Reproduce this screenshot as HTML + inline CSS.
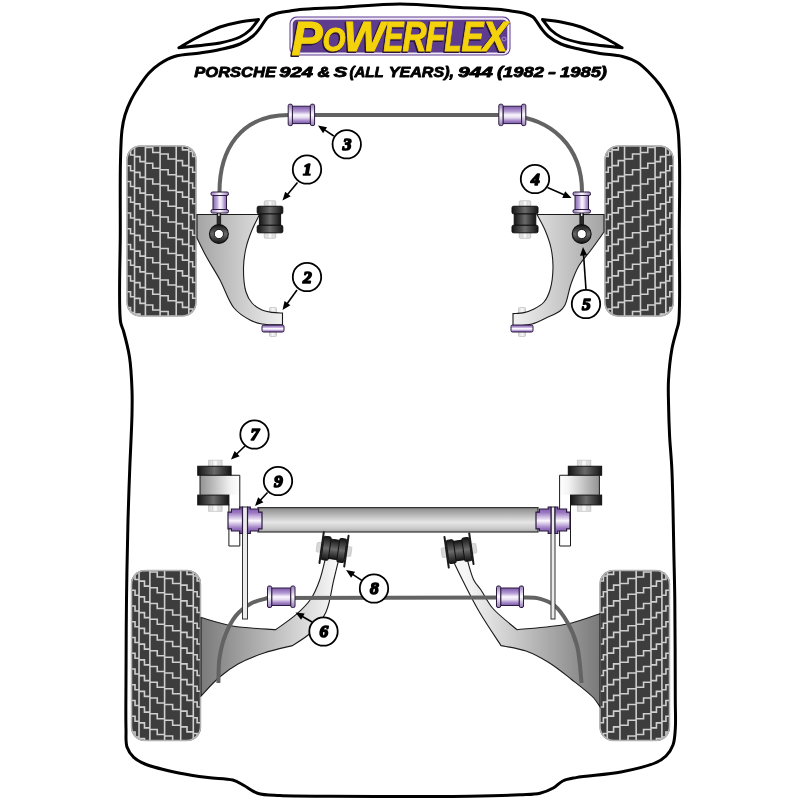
<!DOCTYPE html>
<html><head><meta charset="utf-8"><style>
html,body{margin:0;padding:0;background:#fff;width:800px;height:800px;overflow:hidden}
svg{display:block;will-change:transform}
</style></head><body>
<svg width="800" height="800" viewBox="0 0 800 800">
<defs>
<linearGradient id="gPurple" x1="0" y1="0" x2="0" y2="1">
  <stop offset="0" stop-color="#7c58aa"/>
  <stop offset="0.3" stop-color="#b59cd4"/>
  <stop offset="0.5" stop-color="#faf6fd"/>
  <stop offset="0.65" stop-color="#e8def2"/>
  <stop offset="0.85" stop-color="#a284c6"/>
  <stop offset="1" stop-color="#7c58aa"/>
</linearGradient>
<linearGradient id="gFlange" x1="0" y1="0" x2="0" y2="1">
  <stop offset="0" stop-color="#9478ba"/>
  <stop offset="0.5" stop-color="#ffffff"/>
  <stop offset="1" stop-color="#9478ba"/>
</linearGradient>
<linearGradient id="gFlangeV" x1="0" y1="0" x2="1" y2="0">
  <stop offset="0" stop-color="#9478ba"/>
  <stop offset="0.5" stop-color="#ffffff"/>
  <stop offset="1" stop-color="#9478ba"/>
</linearGradient>
<linearGradient id="gPurple9" x1="0" y1="0" x2="0" y2="1">
  <stop offset="0" stop-color="#7450a4"/>
  <stop offset="0.22" stop-color="#9c7ac2"/>
  <stop offset="0.52" stop-color="#faf6fd"/>
  <stop offset="0.8" stop-color="#9a78c0"/>
  <stop offset="1" stop-color="#7450a4"/>
</linearGradient>
<linearGradient id="gPurpleV" x1="0" y1="0" x2="1" y2="0">
  <stop offset="0" stop-color="#8a6cb2"/>
  <stop offset="0.3" stop-color="#bca6d8"/>
  <stop offset="0.5" stop-color="#faf6fd"/>
  <stop offset="0.65" stop-color="#e8def2"/>
  <stop offset="0.85" stop-color="#ad92cc"/>
  <stop offset="1" stop-color="#8a6cb2"/>
</linearGradient>
<linearGradient id="gBlack" x1="0" y1="0" x2="1" y2="0">
  <stop offset="0" stop-color="#141414"/>
  <stop offset="0.5" stop-color="#6a6a6a"/>
  <stop offset="1" stop-color="#141414"/>
</linearGradient>
<linearGradient id="gBlackH" x1="0" y1="0" x2="0" y2="1">
  <stop offset="0" stop-color="#141414"/>
  <stop offset="0.5" stop-color="#6a6a6a"/>
  <stop offset="1" stop-color="#141414"/>
</linearGradient>
<linearGradient id="gBolt" x1="0" y1="0" x2="1" y2="0">
  <stop offset="0" stop-color="#d4d4d4"/>
  <stop offset="0.5" stop-color="#fafafa"/>
  <stop offset="1" stop-color="#d4d4d4"/>
</linearGradient>
<linearGradient id="gBody7" x1="0" y1="0" x2="1" y2="0">
  <stop offset="0" stop-color="#9a9a9a"/>
  <stop offset="0.5" stop-color="#e6e6e6"/>
  <stop offset="1" stop-color="#a0a0a0"/>
</linearGradient>
<linearGradient id="gBody7L" x1="0" y1="0" x2="1" y2="0">
  <stop offset="0" stop-color="#929292"/>
  <stop offset="0.78" stop-color="#f4f4f4"/>
  <stop offset="1" stop-color="#ffffff"/>
</linearGradient>
<linearGradient id="gBody7R" x1="1" y1="0" x2="0" y2="0">
  <stop offset="0" stop-color="#929292"/>
  <stop offset="0.78" stop-color="#f4f4f4"/>
  <stop offset="1" stop-color="#ffffff"/>
</linearGradient>
<linearGradient id="gTube" x1="0" y1="0" x2="0" y2="1">
  <stop offset="0" stop-color="#8a8a8a"/>
  <stop offset="0.6" stop-color="#e6e6e6"/>
  <stop offset="0.85" stop-color="#cacaca"/>
  <stop offset="1" stop-color="#a8a8a8"/>
</linearGradient>
<linearGradient id="gArmFL" gradientUnits="userSpaceOnUse" x1="197" y1="0" x2="285" y2="0">
  <stop offset="0" stop-color="#a4a4a4"/>
  <stop offset="1" stop-color="#f2f2f2"/>
</linearGradient>
<linearGradient id="gArmFR" gradientUnits="userSpaceOnUse" x1="604" y1="0" x2="512" y2="0">
  <stop offset="0" stop-color="#a4a4a4"/>
  <stop offset="1" stop-color="#f2f2f2"/>
</linearGradient>
<linearGradient id="gArmRL" gradientUnits="userSpaceOnUse" x1="201" y1="0" x2="335" y2="0">
  <stop offset="0" stop-color="#7a7a7a"/>
  <stop offset="1" stop-color="#f6f6f6"/>
</linearGradient>
<linearGradient id="gArmRR" gradientUnits="userSpaceOnUse" x1="600" y1="0" x2="466" y2="0">
  <stop offset="0" stop-color="#7a7a7a"/>
  <stop offset="1" stop-color="#f6f6f6"/>
</linearGradient>

<clipPath id="clipt1"><rect x="126.5" y="145.5" width="70" height="171" rx="14"/></clipPath>
<clipPath id="clipt2"><rect x="604.4" y="145.5" width="69.4" height="171" rx="14"/></clipPath>
<clipPath id="clipt3"><rect x="131" y="570" width="70" height="171" rx="14"/></clipPath>
<clipPath id="clipt4"><rect x="599.5" y="570" width="70.5" height="171" rx="14"/></clipPath></defs>
<rect width="800" height="800" fill="#fff"/>
<path d="M400,4 C380,4 357.98,6.53 340,7.5 C325.32,8.3 308.87,8.61 300,9.5 C295.54,9.94 293.61,10.41 290,11 C285.72,11.7 279.96,12.3 276,13.5 C272.9,14.44 270.07,15.41 268,17 C266.23,18.36 265.3,20.23 264,22 C262.62,23.88 261.6,25.91 260,28 C258.06,30.54 255.92,33.53 253,36 C249.5,38.95 244.97,41.84 240,44 C234.2,46.52 226.7,48 220,49.5 C213.37,50.99 207.08,51.89 200,53 C192.03,54.24 181.72,54.27 174.5,56.5 C168.67,58.3 163.9,61.08 159.5,64 C155.5,66.65 152.2,69.59 149,73 C145.67,76.55 142.89,80.7 140,85 C136.88,89.65 133.53,94.9 131,100 C128.57,104.9 126.51,109.93 125,115 C123.53,119.93 122.73,124.11 122,130 C120.97,138.25 120.82,147.91 120.5,160 C120.01,178.46 120.29,205.07 120.3,230 C120.31,258.57 118.29,307.47 120.6,322 C121.34,326.66 122.45,327.19 123.5,331 C125.26,337.39 128.09,347.76 129.5,357 C131.07,367.29 131.62,379.87 132,390 C132.33,398.63 132.2,404.33 132,414 C131.7,428.77 130.38,451.86 129.7,470 C129.06,487.14 128.49,501.38 128,520 C127.38,543.55 126.83,573.33 126.5,600 C126.17,626.67 126.07,656.59 126,680 C125.94,698.32 125.66,716.68 126,729 C126.21,736.48 125.37,741.99 127,747 C128.36,751.15 130.81,754.59 133.75,757.4 C136.77,760.29 140.06,761.94 145,764 C153.08,767.37 167.84,770.69 178.75,773 C188.79,775.12 198.64,776.41 208,777.6 C216.58,778.69 226.23,778.16 232.75,780 C237.37,781.31 240.11,783.44 244,785.5 C248.33,787.79 252.22,791.5 257.5,793.2 C263.87,795.26 271.01,795.06 280,795.6 C293.37,796.4 311.93,796.15 330,796.3 C351.37,796.48 376.67,796.5 400,796.5 C423.33,796.5 448.63,796.65 470,796.3 C488.07,796 507.09,795.51 520,794.8 C528.17,794.35 534.05,794.58 540,793.2 C545.11,792.01 549.78,789.97 553.75,787.75 C557.21,785.81 559.27,782.67 562.75,781 C566.59,779.16 570.23,778.7 576,777.6 C586.51,775.61 607.13,774.69 621,772 C633.21,769.64 646.97,766.52 655,763 C659.89,760.86 663,759 666,756 C669,753 671.44,749.2 673,745 C674.73,740.33 674.86,735.14 675.3,729 C675.89,720.78 675.33,712.57 675.3,700 C675.24,676.67 675.12,625.83 674.8,600 C674.6,583.66 674.35,576 674,560 C673.48,536 672.94,492.83 671.9,470 C671.26,455.95 670.17,447.3 669.6,436 C669.04,424.8 668.67,412.56 668.5,402.5 C668.36,394.26 668.05,388.12 668.5,380 C669.03,370.37 670.39,357.42 672,348.5 C673.21,341.77 675.17,335.87 676.4,331 C677.29,327.5 678.1,326.63 678.7,322 C680.58,307.44 679.17,258.57 679.3,230 C679.42,205.08 679.93,178.46 679.5,160 C679.22,147.91 679.03,138.25 678,130 C677.27,124.11 676.47,119.93 675,115 C673.49,109.93 671.43,104.9 669,100 C666.47,94.9 663.34,89.59 660,85 C656.81,80.62 653.25,76.75 649.5,73 C645.75,69.25 641.98,65.25 637.5,62.5 C632.99,59.74 628.11,57.97 622.5,56.5 C615.85,54.76 607.16,54.73 600,53.5 C593.38,52.36 587.39,51.05 581,49.5 C574.39,47.9 566.8,46.52 561,44 C556.03,41.84 551.5,38.95 548,36 C545.08,33.53 542.94,30.54 541,28 C539.4,25.91 538.38,23.88 537,22 C535.7,20.23 534.77,18.36 533,17 C530.93,15.41 528.1,14.44 525,13.5 C521.04,12.3 515.28,11.7 511,11 C507.39,10.41 505.48,9.94 501,9.5 C491.98,8.61 474.96,8.3 460,7.5 C441.9,6.53 420,4 400,4Z" fill="#ffffff" stroke="#000" stroke-width="3"/>
<path d="M178.9,47.8 C181.58,46.25 189.56,41.38 195,38.5 C200.37,35.65 206.69,32.67 211.3,30.6 C214.63,29.11 216.45,28.17 220,27 C225.25,25.27 233.43,23.26 240,22 C246.25,20.8 255.42,19.92 258.5,19.5 L258.5,19.5 C257.08,21.25 253.18,27.04 250,30 C246.98,32.82 244.1,35.02 240,37 C234.64,39.6 226.3,41.64 220,43 C214.53,44.18 210.24,44.4 204.4,45.1 C196.94,46 183.15,47.35 178.9,47.8Z" fill="#fff" stroke="#000" stroke-width="3" stroke-linejoin="round"/>
<path d="M622.1,47.8 C619.42,46.25 611.44,41.38 606,38.5 C600.63,35.65 594.31,32.67 589.7,30.6 C586.37,29.11 584.55,28.17 581,27 C575.75,25.27 567.57,23.26 561,22 C554.75,20.8 545.58,19.92 542.5,19.5 L542.5,19.5 C543.92,21.25 547.82,27.04 551,30 C554.02,32.82 556.9,35.02 561,37 C566.36,39.6 574.7,41.64 581,43 C586.47,44.18 590.76,44.4 596.6,45.1 C604.06,46 617.85,47.35 622.1,47.8Z" fill="#fff" stroke="#000" stroke-width="3" stroke-linejoin="round"/>
<g clip-path="url(#clipt1)">
<rect x="126.5" y="145.5" width="70" height="171" fill="#3d3d3d"/>
<path d="M126.5,118.5H130.53V123.5H134.55M126.5,134.25H130.53V139.25H134.55M126.5,150H130.53V155H134.55M126.5,165.75H130.53V170.75H134.55M126.5,181.5H130.53V186.5H134.55M126.5,197.25H130.53V202.25H134.55M126.5,213H130.53V218H134.55M126.5,228.75H130.53V233.75H134.55M126.5,244.5H130.53V249.5H134.55M126.5,260.25H130.53V265.25H134.55M126.5,276H130.53V281H134.55M126.5,291.75H130.53V296.75H134.55M126.5,307.5H130.53V312.5H134.55M134.55,145.5V316.5M134.55,125.1H139.98V130.1H145.4M134.55,140.85H139.98V145.85H145.4M134.55,156.6H139.98V161.6H145.4M134.55,172.35H139.98V177.35H145.4M134.55,188.1H139.98V193.1H145.4M134.55,203.85H139.98V208.85H145.4M134.55,219.6H139.98V224.6H145.4M134.55,235.35H139.98V240.35H145.4M134.55,251.1H139.98V256.1H145.4M134.55,266.85H139.98V271.85H145.4M134.55,282.6H139.98V287.6H145.4M134.55,298.35H139.98V303.35H145.4M134.55,314.1H139.98V319.1H145.4M145.4,145.5V316.5M145.4,131.7H152.75V136.7H160.1M145.4,147.45H152.75V152.45H160.1M145.4,163.2H152.75V168.2H160.1M145.4,178.95H152.75V183.95H160.1M145.4,194.7H152.75V199.7H160.1M145.4,210.45H152.75V215.45H160.1M145.4,226.2H152.75V231.2H160.1M145.4,241.95H152.75V246.95H160.1M145.4,257.7H152.75V262.7H160.1M145.4,273.45H152.75V278.45H160.1M145.4,289.2H152.75V294.2H160.1M145.4,304.95H152.75V309.95H160.1M160.1,145.5V316.5M160.1,138.3H168.15V143.3H176.2M160.1,154.05H168.15V159.05H176.2M160.1,169.8H168.15V174.8H176.2M160.1,185.55H168.15V190.55H176.2M160.1,201.3H168.15V206.3H176.2M160.1,217.05H168.15V222.05H176.2M160.1,232.8H168.15V237.8H176.2M160.1,248.55H168.15V253.55H176.2M160.1,264.3H168.15V269.3H176.2M160.1,280.05H168.15V285.05H176.2M160.1,295.8H168.15V300.8H176.2M160.1,311.55H168.15V316.55H176.2M176.2,145.5V316.5M176.2,144.9H182.5V149.9H188.8M176.2,160.65H182.5V165.65H188.8M176.2,176.4H182.5V181.4H188.8M176.2,192.15H182.5V197.15H188.8M176.2,207.9H182.5V212.9H188.8M176.2,223.65H182.5V228.65H188.8M176.2,239.4H182.5V244.4H188.8M176.2,255.15H182.5V260.15H188.8M176.2,270.9H182.5V275.9H188.8M176.2,286.65H182.5V291.65H188.8M176.2,302.4H182.5V307.4H188.8M176.2,318.15H182.5V323.15H188.8M188.8,145.5V316.5M188.8,151.5H192.65V156.5H196.5M188.8,167.25H192.65V172.25H196.5M188.8,183H192.65V188H196.5M188.8,198.75H192.65V203.75H196.5M188.8,214.5H192.65V219.5H196.5M188.8,230.25H192.65V235.25H196.5M188.8,246H192.65V251H196.5M188.8,261.75H192.65V266.75H196.5M188.8,277.5H192.65V282.5H196.5M188.8,293.25H192.65V298.25H196.5M188.8,309H192.65V314H196.5" fill="none" stroke="#cfcfcf" stroke-width="1.6"/>
</g>
<rect x="127" y="146" width="69" height="170" rx="14" fill="none" stroke="#b4b4b4" stroke-width="1.5"/>
<g clip-path="url(#clipt2)">
<g transform="translate(1278.2,0) scale(-1,1)">
<rect x="604.4" y="145.5" width="69.4" height="171" fill="#3d3d3d"/>
<path d="M604.4,118.5H608.39V123.5H612.38M604.4,134.25H608.39V139.25H612.38M604.4,150H608.39V155H612.38M604.4,165.75H608.39V170.75H612.38M604.4,181.5H608.39V186.5H612.38M604.4,197.25H608.39V202.25H612.38M604.4,213H608.39V218H612.38M604.4,228.75H608.39V233.75H612.38M604.4,244.5H608.39V249.5H612.38M604.4,260.25H608.39V265.25H612.38M604.4,276H608.39V281H612.38M604.4,291.75H608.39V296.75H612.38M604.4,307.5H608.39V312.5H612.38M612.38,145.5V316.5M612.38,125.1H617.76V130.1H623.14M612.38,140.85H617.76V145.85H623.14M612.38,156.6H617.76V161.6H623.14M612.38,172.35H617.76V177.35H623.14M612.38,188.1H617.76V193.1H623.14M612.38,203.85H617.76V208.85H623.14M612.38,219.6H617.76V224.6H623.14M612.38,235.35H617.76V240.35H623.14M612.38,251.1H617.76V256.1H623.14M612.38,266.85H617.76V271.85H623.14M612.38,282.6H617.76V287.6H623.14M612.38,298.35H617.76V303.35H623.14M612.38,314.1H617.76V319.1H623.14M623.14,145.5V316.5M623.14,131.7H630.42V136.7H637.71M623.14,147.45H630.42V152.45H637.71M623.14,163.2H630.42V168.2H637.71M623.14,178.95H630.42V183.95H637.71M623.14,194.7H630.42V199.7H637.71M623.14,210.45H630.42V215.45H637.71M623.14,226.2H630.42V231.2H637.71M623.14,241.95H630.42V246.95H637.71M623.14,257.7H630.42V262.7H637.71M623.14,273.45H630.42V278.45H637.71M623.14,289.2H630.42V294.2H637.71M623.14,304.95H630.42V309.95H637.71M637.71,145.5V316.5M637.71,138.3H645.69V143.3H653.67M637.71,154.05H645.69V159.05H653.67M637.71,169.8H645.69V174.8H653.67M637.71,185.55H645.69V190.55H653.67M637.71,201.3H645.69V206.3H653.67M637.71,217.05H645.69V222.05H653.67M637.71,232.8H645.69V237.8H653.67M637.71,248.55H645.69V253.55H653.67M637.71,264.3H645.69V269.3H653.67M637.71,280.05H645.69V285.05H653.67M637.71,295.8H645.69V300.8H653.67M637.71,311.55H645.69V316.55H653.67M653.67,145.5V316.5M653.67,144.9H659.92V149.9H666.17M653.67,160.65H659.92V165.65H666.17M653.67,176.4H659.92V181.4H666.17M653.67,192.15H659.92V197.15H666.17M653.67,207.9H659.92V212.9H666.17M653.67,223.65H659.92V228.65H666.17M653.67,239.4H659.92V244.4H666.17M653.67,255.15H659.92V260.15H666.17M653.67,270.9H659.92V275.9H666.17M653.67,286.65H659.92V291.65H666.17M653.67,302.4H659.92V307.4H666.17M653.67,318.15H659.92V323.15H666.17M666.17,145.5V316.5M666.17,151.5H669.98V156.5H673.8M666.17,167.25H669.98V172.25H673.8M666.17,183H669.98V188H673.8M666.17,198.75H669.98V203.75H673.8M666.17,214.5H669.98V219.5H673.8M666.17,230.25H669.98V235.25H673.8M666.17,246H669.98V251H673.8M666.17,261.75H669.98V266.75H673.8M666.17,277.5H669.98V282.5H673.8M666.17,293.25H669.98V298.25H673.8M666.17,309H669.98V314H673.8" fill="none" stroke="#cfcfcf" stroke-width="1.6"/>
</g>
</g>
<rect x="604.9" y="146" width="68.4" height="170" rx="14" fill="none" stroke="#b4b4b4" stroke-width="1.5"/>
<g clip-path="url(#clipt3)">
<rect x="131" y="570" width="70" height="171" fill="#3d3d3d"/>
<path d="M131,543H135.03V548H139.05M131,558.75H135.03V563.75H139.05M131,574.5H135.03V579.5H139.05M131,590.25H135.03V595.25H139.05M131,606H135.03V611H139.05M131,621.75H135.03V626.75H139.05M131,637.5H135.03V642.5H139.05M131,653.25H135.03V658.25H139.05M131,669H135.03V674H139.05M131,684.75H135.03V689.75H139.05M131,700.5H135.03V705.5H139.05M131,716.25H135.03V721.25H139.05M131,732H135.03V737H139.05M139.05,570V741M139.05,549.6H144.48V554.6H149.9M139.05,565.35H144.48V570.35H149.9M139.05,581.1H144.48V586.1H149.9M139.05,596.85H144.48V601.85H149.9M139.05,612.6H144.48V617.6H149.9M139.05,628.35H144.48V633.35H149.9M139.05,644.1H144.48V649.1H149.9M139.05,659.85H144.48V664.85H149.9M139.05,675.6H144.48V680.6H149.9M139.05,691.35H144.48V696.35H149.9M139.05,707.1H144.48V712.1H149.9M139.05,722.85H144.48V727.85H149.9M139.05,738.6H144.48V743.6H149.9M149.9,570V741M149.9,556.2H157.25V561.2H164.6M149.9,571.95H157.25V576.95H164.6M149.9,587.7H157.25V592.7H164.6M149.9,603.45H157.25V608.45H164.6M149.9,619.2H157.25V624.2H164.6M149.9,634.95H157.25V639.95H164.6M149.9,650.7H157.25V655.7H164.6M149.9,666.45H157.25V671.45H164.6M149.9,682.2H157.25V687.2H164.6M149.9,697.95H157.25V702.95H164.6M149.9,713.7H157.25V718.7H164.6M149.9,729.45H157.25V734.45H164.6M164.6,570V741M164.6,562.8H172.65V567.8H180.7M164.6,578.55H172.65V583.55H180.7M164.6,594.3H172.65V599.3H180.7M164.6,610.05H172.65V615.05H180.7M164.6,625.8H172.65V630.8H180.7M164.6,641.55H172.65V646.55H180.7M164.6,657.3H172.65V662.3H180.7M164.6,673.05H172.65V678.05H180.7M164.6,688.8H172.65V693.8H180.7M164.6,704.55H172.65V709.55H180.7M164.6,720.3H172.65V725.3H180.7M164.6,736.05H172.65V741.05H180.7M180.7,570V741M180.7,569.4H187V574.4H193.3M180.7,585.15H187V590.15H193.3M180.7,600.9H187V605.9H193.3M180.7,616.65H187V621.65H193.3M180.7,632.4H187V637.4H193.3M180.7,648.15H187V653.15H193.3M180.7,663.9H187V668.9H193.3M180.7,679.65H187V684.65H193.3M180.7,695.4H187V700.4H193.3M180.7,711.15H187V716.15H193.3M180.7,726.9H187V731.9H193.3M180.7,742.65H187V747.65H193.3M193.3,570V741M193.3,576H197.15V581H201M193.3,591.75H197.15V596.75H201M193.3,607.5H197.15V612.5H201M193.3,623.25H197.15V628.25H201M193.3,639H197.15V644H201M193.3,654.75H197.15V659.75H201M193.3,670.5H197.15V675.5H201M193.3,686.25H197.15V691.25H201M193.3,702H197.15V707H201M193.3,717.75H197.15V722.75H201M193.3,733.5H197.15V738.5H201" fill="none" stroke="#cfcfcf" stroke-width="1.6"/>
</g>
<rect x="131.5" y="570.5" width="69" height="170" rx="14" fill="none" stroke="#b4b4b4" stroke-width="1.5"/>
<g clip-path="url(#clipt4)">
<g transform="translate(1269.5,0) scale(-1,1)">
<rect x="599.5" y="570" width="70.5" height="171" fill="#3d3d3d"/>
<path d="M599.5,543H603.55V548H607.61M599.5,558.75H603.55V563.75H607.61M599.5,574.5H603.55V579.5H607.61M599.5,590.25H603.55V595.25H607.61M599.5,606H603.55V611H607.61M599.5,621.75H603.55V626.75H607.61M599.5,637.5H603.55V642.5H607.61M599.5,653.25H603.55V658.25H607.61M599.5,669H603.55V674H607.61M599.5,684.75H603.55V689.75H607.61M599.5,700.5H603.55V705.5H607.61M599.5,716.25H603.55V721.25H607.61M599.5,732H603.55V737H607.61M607.61,570V741M607.61,549.6H613.07V554.6H618.53M607.61,565.35H613.07V570.35H618.53M607.61,581.1H613.07V586.1H618.53M607.61,596.85H613.07V601.85H618.53M607.61,612.6H613.07V617.6H618.53M607.61,628.35H613.07V633.35H618.53M607.61,644.1H613.07V649.1H618.53M607.61,659.85H613.07V664.85H618.53M607.61,675.6H613.07V680.6H618.53M607.61,691.35H613.07V696.35H618.53M607.61,707.1H613.07V712.1H618.53M607.61,722.85H613.07V727.85H618.53M607.61,738.6H613.07V743.6H618.53M618.53,570V741M618.53,556.2H625.94V561.2H633.34M618.53,571.95H625.94V576.95H633.34M618.53,587.7H625.94V592.7H633.34M618.53,603.45H625.94V608.45H633.34M618.53,619.2H625.94V624.2H633.34M618.53,634.95H625.94V639.95H633.34M618.53,650.7H625.94V655.7H633.34M618.53,666.45H625.94V671.45H633.34M618.53,682.2H625.94V687.2H633.34M618.53,697.95H625.94V702.95H633.34M618.53,713.7H625.94V718.7H633.34M618.53,729.45H625.94V734.45H633.34M633.34,570V741M633.34,562.8H641.45V567.8H649.55M633.34,578.55H641.45V583.55H649.55M633.34,594.3H641.45V599.3H649.55M633.34,610.05H641.45V615.05H649.55M633.34,625.8H641.45V630.8H649.55M633.34,641.55H641.45V646.55H649.55M633.34,657.3H641.45V662.3H649.55M633.34,673.05H641.45V678.05H649.55M633.34,688.8H641.45V693.8H649.55M633.34,704.55H641.45V709.55H649.55M633.34,720.3H641.45V725.3H649.55M633.34,736.05H641.45V741.05H649.55M649.55,570V741M649.55,569.4H655.9V574.4H662.25M649.55,585.15H655.9V590.15H662.25M649.55,600.9H655.9V605.9H662.25M649.55,616.65H655.9V621.65H662.25M649.55,632.4H655.9V637.4H662.25M649.55,648.15H655.9V653.15H662.25M649.55,663.9H655.9V668.9H662.25M649.55,679.65H655.9V684.65H662.25M649.55,695.4H655.9V700.4H662.25M649.55,711.15H655.9V716.15H662.25M649.55,726.9H655.9V731.9H662.25M649.55,742.65H655.9V747.65H662.25M662.25,570V741M662.25,576H666.12V581H670M662.25,591.75H666.12V596.75H670M662.25,607.5H666.12V612.5H670M662.25,623.25H666.12V628.25H670M662.25,639H666.12V644H670M662.25,654.75H666.12V659.75H670M662.25,670.5H666.12V675.5H670M662.25,686.25H666.12V691.25H670M662.25,702H666.12V707H670M662.25,717.75H666.12V722.75H670M662.25,733.5H666.12V738.5H670" fill="none" stroke="#cfcfcf" stroke-width="1.6"/>
</g>
</g>
<rect x="600" y="570.5" width="69.5" height="170" rx="14" fill="none" stroke="#b4b4b4" stroke-width="1.5"/>
<path d="M219.5,192 C219.5,150 240,115 289,115 L499,115 C555,115 582,150 582,192" fill="none" stroke="#636363" stroke-width="4"/>
<rect x="269.5" y="307.5" width="7" height="29" rx="1" fill="url(#gBolt)" stroke="#c4c4c4" stroke-width="0.8"/>
<rect x="518.5" y="307.5" width="7" height="29" rx="1" fill="url(#gBolt)" stroke="#c4c4c4" stroke-width="0.8"/>
<path d="M197,214.5 L259.5,214.5 C258.25,217.08 254.21,224.57 252,230 C249.68,235.7 247.41,241.77 246,248 C244.54,254.42 243.57,261.03 243.5,268 C243.42,275.63 244.04,285.69 246,292 C247.41,296.55 249.31,299.99 252,303 C254.66,305.97 258.51,308.43 262,310 C265.2,311.44 268.6,311.9 272,312.4 C275.44,312.91 280.75,312.9 282.5,313 L282.5,325 C279.08,324.83 267.86,325.1 262,324 C257.4,323.14 254.11,322.15 250,320 C244.84,317.29 238.62,313.54 234,308 C228.22,301.07 224.81,288.9 220,280 C215.46,271.62 210.05,263.49 206,256 C202.55,249.63 198.5,241 197,238 Z" fill="url(#gArmFL)" stroke="#1a1a1a" stroke-width="1.1"/>
<path d="M604,214.5 L537,214.5 C538.33,217.08 542.7,224.55 545,230 C547.4,235.69 549.67,241.76 551,248 C552.37,254.42 553.12,261.18 553,268 C552.87,275.17 551.88,283.9 550,290 C548.53,294.74 546.76,298.8 544,302 C541.36,305.06 537.46,307.21 534,309 C530.77,310.67 527.46,311.83 524,312.6 C520.47,313.38 514.83,313.43 513,313.6 L513,326 C516.17,325.67 526.25,325.5 532,324 C537.13,322.66 541.36,320.15 546,318 C550.7,315.82 556.69,313.63 560,311 C562.34,309.15 563.51,307.82 565,305 C567.49,300.29 568.63,290.66 571,284 C573.25,277.69 575.45,271.63 578.75,266 C582.1,260.29 586.89,255.52 591,250 C595.31,244.21 601.83,235 604,232 Z" fill="url(#gArmFR)" stroke="#1a1a1a" stroke-width="1.1"/>
<rect x="262" y="325" width="22" height="7" rx="1.5" fill="url(#gPurple)" stroke="#2b1a3d" stroke-width="1"/>
<rect x="511" y="325" width="22" height="7" rx="1.5" fill="url(#gPurple)" stroke="#2b1a3d" stroke-width="1"/>
<rect x="264.25" y="200.75" width="11.5" height="37.55" rx="1.2" fill="url(#gBolt)" stroke="#c2c2c2" stroke-width="0.8"/>
<path d="M267.8,201.25V206.25M272.2,201.25V206.25M267.8,232.8V237.8M272.2,232.8V237.8" stroke="#d0d0d0" stroke-width="0.8"/>
<rect x="259.4" y="213.75" width="21.2" height="11.55" fill="url(#gBlack)" stroke="#111" stroke-width="1"/>
<rect x="257.2" y="206.25" width="25.6" height="7.5" rx="1.5" fill="url(#gBlack)" stroke="#111" stroke-width="1"/>
<rect x="257.2" y="225.3" width="25.6" height="7.5" rx="1.5" fill="url(#gBlack)" stroke="#111" stroke-width="1"/>
<rect x="519.25" y="200.75" width="11.5" height="37.55" rx="1.2" fill="url(#gBolt)" stroke="#c2c2c2" stroke-width="0.8"/>
<path d="M522.8,201.25V206.25M527.2,201.25V206.25M522.8,232.8V237.8M527.2,232.8V237.8" stroke="#d0d0d0" stroke-width="0.8"/>
<rect x="514.2" y="213.75" width="21.6" height="11.55" fill="url(#gBlack)" stroke="#111" stroke-width="1"/>
<rect x="512" y="206.25" width="26" height="7.5" rx="1.5" fill="url(#gBlack)" stroke="#111" stroke-width="1"/>
<rect x="512" y="225.3" width="26" height="7.5" rx="1.5" fill="url(#gBlack)" stroke="#111" stroke-width="1"/>
<rect x="217.1" y="212" width="3.6" height="14" fill="#2a2a2a" stroke="#111" stroke-width="0.8"/>
<rect x="218.3" y="213" width="1.2" height="3" fill="#fff"/>
<circle cx="218.9" cy="234" r="9.4" fill="url(#gBlackH)" stroke="#111" stroke-width="1.2"/>
<circle cx="218.9" cy="234" r="4.6" fill="#fff" stroke="#111" stroke-width="0.9"/>
<rect x="579.9" y="212" width="3.6" height="14" fill="#2a2a2a" stroke="#111" stroke-width="0.8"/>
<rect x="581.1" y="213" width="1.2" height="3" fill="#fff"/>
<circle cx="581.7" cy="234" r="9.4" fill="url(#gBlackH)" stroke="#111" stroke-width="1.2"/>
<circle cx="581.7" cy="234" r="4.6" fill="#fff" stroke="#111" stroke-width="0.9"/>
<rect x="213" y="195.5" width="13.5" height="14" fill="url(#gPurpleV)" stroke="#2b1a3d" stroke-width="1"/>
<rect x="211" y="192" width="17.5" height="3.5" rx="1.5" fill="url(#gFlangeV)" stroke="#2b1a3d" stroke-width="1"/>
<rect x="211" y="209.5" width="17.5" height="3.5" rx="1.5" fill="url(#gFlangeV)" stroke="#2b1a3d" stroke-width="1"/>
<rect x="575" y="195.5" width="13.5" height="14" fill="url(#gPurpleV)" stroke="#2b1a3d" stroke-width="1"/>
<rect x="573" y="192" width="17.5" height="3.5" rx="1.5" fill="url(#gFlangeV)" stroke="#2b1a3d" stroke-width="1"/>
<rect x="573" y="209.5" width="17.5" height="3.5" rx="1.5" fill="url(#gFlangeV)" stroke="#2b1a3d" stroke-width="1"/>
<rect x="292.4" y="106.2" width="18" height="17.4" fill="url(#gPurple)" stroke="#2b1a3d" stroke-width="1"/>
<rect x="288.2" y="104.2" width="4.2" height="21.4" rx="1.5" fill="url(#gFlange)" stroke="#2b1a3d" stroke-width="1"/>
<rect x="310.4" y="104.2" width="4.2" height="21.4" rx="1.5" fill="url(#gFlange)" stroke="#2b1a3d" stroke-width="1"/>
<rect x="503" y="106.2" width="18.6" height="17.4" fill="url(#gPurple)" stroke="#2b1a3d" stroke-width="1"/>
<rect x="498.8" y="104.2" width="4.2" height="21.4" rx="1.5" fill="url(#gFlange)" stroke="#2b1a3d" stroke-width="1"/>
<rect x="521.6" y="104.2" width="4.2" height="21.4" rx="1.5" fill="url(#gFlange)" stroke="#2b1a3d" stroke-width="1"/>
<path d="M201,617.5 C206.25,618.92 221.08,623.99 232.5,626 C245.65,628.32 268.42,629.08 275.6,629.7 L275.6,629.7 C279,627.2 289.94,620.07 296,614.7 C301.64,609.7 307.02,604.63 311,598.75 C314.86,593.03 317.27,586.75 319.7,580 C322.36,572.6 324.95,560 326,556 L339.6,556 C338.62,560 335.83,571.42 333.75,580 C331.34,589.9 330.24,602.87 326,612 C322.28,620.02 316.79,626.8 311,632.5 C305.53,637.88 295.58,643.42 292.5,645.6 C287.75,646.83 273.17,649.89 264,653 C255.02,656.05 245.78,659.66 238,664 C230.93,667.94 225.03,672.34 219,677.5 C212.66,682.93 204,692.92 201,696 Z" fill="url(#gArmRL)" stroke="#1a1a1a" stroke-width="1.1" stroke-linejoin="miter"/>
<path d="M600,613.75 C594.58,615.46 579.66,621.42 567.5,624 C552.65,627.15 525.42,628.75 517,629.7 C512.92,626.08 498.77,615.34 492.5,608 C487.43,602.07 484.46,595.08 481,590 C478.37,586.14 475.89,584.27 473.75,580 C470.7,573.91 467.54,560 466.3,556 L450.8,556 C452.75,560 458.17,571.46 462.5,580 C467.55,589.94 473.17,601.34 479.4,612 C485.94,623.2 497.4,640 501,645.6 C505.17,646.5 518.04,648.18 526,651 C533.95,653.82 541.4,657.96 548.75,662.5 C556.42,667.23 563.63,673.19 571,679 C578.63,685.01 588.75,692.54 593.75,698 C596.79,701.32 598.96,705.5 600,707 Z" fill="url(#gArmRR)" stroke="#1a1a1a" stroke-width="1.1" stroke-linejoin="miter"/>
<path d="M218.4,683 C218.57,678.96 218.28,666.65 219.4,658.75 C220.5,650.99 222.22,643.21 225,636 C227.76,628.83 231.39,621.17 236,615.6 C240.21,610.51 245.54,606.35 251,603.4 C256.24,600.57 265.17,598.9 268,598 L524,597.5 C526.57,597.68 534.41,597.32 539.4,598.6 C544.56,599.92 549.95,601.95 554.4,605.5 C559.48,609.54 563.82,616.13 567.5,622.5 C571.47,629.38 574.69,636.8 577,645.6 C579.83,656.41 580.83,676.77 581.6,683" fill="none" stroke="#636363" stroke-width="4"/>
<rect x="271.7" y="588" width="19.1" height="17.5" fill="url(#gPurple)" stroke="#2b1a3d" stroke-width="1"/>
<rect x="267.5" y="586" width="4.2" height="21.5" rx="1.5" fill="url(#gFlange)" stroke="#2b1a3d" stroke-width="1"/>
<rect x="290.8" y="586" width="4.2" height="21.5" rx="1.5" fill="url(#gFlange)" stroke="#2b1a3d" stroke-width="1"/>
<rect x="500.7" y="588" width="18.6" height="17.5" fill="url(#gPurple)" stroke="#2b1a3d" stroke-width="1"/>
<rect x="496.5" y="586" width="4.2" height="21.5" rx="1.5" fill="url(#gFlange)" stroke="#2b1a3d" stroke-width="1"/>
<rect x="519.3" y="586" width="4.2" height="21.5" rx="1.5" fill="url(#gFlange)" stroke="#2b1a3d" stroke-width="1"/>
<rect x="258" y="507.6" width="280" height="24.4" fill="url(#gTube)" stroke="#333" stroke-width="1.2"/>
<rect x="208.6" y="460.2" width="13.5" height="51.1" fill="url(#gBolt)" stroke="#c8c8c8" stroke-width="0.8"/>
<path d="M212.5,460.5V466M218.2,460.5V466M212.5,505V511M218.2,505V511" stroke="#cfcfcf" stroke-width="0.8"/>
<rect x="200" y="475.25" width="39.8" height="19.65" fill="url(#gBody7L)"/>
<rect x="228.9" y="494.9" width="10.9" height="51.1" fill="#fff"/>
<path d="M200,475.25 V494.9 M230.5,475.25 H239.8 V546 H228.9 V504.5" fill="none" stroke="#1a1a1a" stroke-width="1"/>
<rect x="197.75" y="466.25" width="33.35" height="9" fill="url(#gBlack)" stroke="#111" stroke-width="1"/>
<rect x="197.75" y="495.1" width="31.15" height="9.8" fill="url(#gBlack)" stroke="#111" stroke-width="1"/>
<rect x="577.3" y="460.2" width="13.5" height="51.1" fill="url(#gBolt)" stroke="#c8c8c8" stroke-width="0.8"/>
<path d="M586.9,460.5V466M581.2,460.5V466M586.9,505V511M581.2,505V511" stroke="#cfcfcf" stroke-width="0.8"/>
<rect x="559.6" y="475.25" width="39.8" height="19.65" fill="url(#gBody7R)"/>
<rect x="559.6" y="494.9" width="10.9" height="51.1" fill="#fff"/>
<path d="M599.4,475.25 V494.9 M568.9,475.25 H559.6 V546 H570.5 V504.5" fill="none" stroke="#1a1a1a" stroke-width="1"/>
<rect x="568.3" y="466.25" width="33.35" height="9" fill="url(#gBlack)" stroke="#111" stroke-width="1"/>
<rect x="570.5" y="495.1" width="31.15" height="9.8" fill="url(#gBlack)" stroke="#111" stroke-width="1"/>
<rect x="242.5" y="507" width="5" height="112" fill="#ebebeb" stroke="#333" stroke-width="1"/>
<rect x="551" y="507" width="4" height="112" fill="#ebebeb" stroke="#333" stroke-width="1"/>
<path d="M228,512.2 L231.4,512.2 L231.4,509 L239.7,509 L239.7,507 L242.5,507 L242.5,533.5 L239.7,533.5 L239.7,531 L231.4,531 L231.4,528.8 L228,528.8Z" fill="url(#gPurple9)" stroke="#2b1a3d" stroke-width="1.2" stroke-linejoin="miter"/>
<path d="M262,512.2 L258.6,512.2 L258.6,509 L250.3,509 L250.3,507 L247.5,507 L247.5,533.5 L250.3,533.5 L250.3,531 L258.6,531 L258.6,528.8 L262,528.8Z" fill="url(#gPurple9)" stroke="#2b1a3d" stroke-width="1.2" stroke-linejoin="miter"/>
<path d="M536,512.2 L539.4,512.2 L539.4,509 L548.2,509 L548.2,507 L551,507 L551,533.5 L548.2,533.5 L548.2,531 L539.4,531 L539.4,528.8 L536,528.8Z" fill="url(#gPurple9)" stroke="#2b1a3d" stroke-width="1.2" stroke-linejoin="miter"/>
<path d="M570,512.2 L566.6,512.2 L566.6,509 L557.8,509 L557.8,507 L555,507 L555,533.5 L557.8,533.5 L557.8,531 L566.6,531 L566.6,528.8 L570,528.8Z" fill="url(#gPurple9)" stroke="#2b1a3d" stroke-width="1.2" stroke-linejoin="miter"/>
<g transform="translate(334,549.4) rotate(8)">
<rect x="-17.5" y="-4.8" width="35" height="9.6" rx="1" fill="url(#gBolt)" stroke="#c8c8c8" stroke-width="0.8"/>
<rect x="-5" y="-9.8" width="10" height="19.6" fill="url(#gBlackH)" stroke="#111" stroke-width="1"/>
<rect x="-11.5" y="-11.8" width="7.2" height="23.6" rx="2" fill="url(#gBlackH)" stroke="#111" stroke-width="1"/>
<rect x="4.3" y="-11.8" width="7.2" height="23.6" rx="2" fill="url(#gBlackH)" stroke="#111" stroke-width="1"/>
<path d="M-12.5,-15.5V15.5M12.5,-15.5V15.5" stroke="#1a1a1a" stroke-width="2" stroke-linecap="round"/>
</g>
<g transform="translate(459,550.5) rotate(-8)">
<rect x="-17.5" y="-4.8" width="35" height="9.6" rx="1" fill="url(#gBolt)" stroke="#c8c8c8" stroke-width="0.8"/>
<rect x="-5" y="-9.8" width="10" height="19.6" fill="url(#gBlackH)" stroke="#111" stroke-width="1"/>
<rect x="-11.5" y="-11.8" width="7.2" height="23.6" rx="2" fill="url(#gBlackH)" stroke="#111" stroke-width="1"/>
<rect x="4.3" y="-11.8" width="7.2" height="23.6" rx="2" fill="url(#gBlackH)" stroke="#111" stroke-width="1"/>
<path d="M-12.5,-15.5V15.5M12.5,-15.5V15.5" stroke="#1a1a1a" stroke-width="2" stroke-linecap="round"/>
</g>
<line x1="297.5" y1="182.5" x2="287.3" y2="194.74" stroke="#000" stroke-width="1.6"/>
<path d="M282.5,200.5L285.18,191.67L290.71,196.27Z" fill="#000"/>
<circle cx="307" cy="169.5" r="14.2" fill="#fff" stroke="#000" stroke-width="1.8"/>
<text x="307.3" y="175.4" text-anchor="middle" font-family="Liberation Serif, serif" font-weight="bold" font-style="italic" font-size="17.5" fill="#000" stroke="#000" stroke-width="1.6" stroke-linejoin="round">1</text>
<line x1="297" y1="290" x2="286.9" y2="303.93" stroke="#000" stroke-width="1.6"/>
<path d="M282.5,310L284.57,301.01L290.4,305.23Z" fill="#000"/>
<circle cx="307" cy="277" r="14.2" fill="#fff" stroke="#000" stroke-width="1.8"/>
<text x="307.3" y="282.9" text-anchor="middle" font-family="Liberation Serif, serif" font-weight="bold" font-style="italic" font-size="17.5" fill="#000" stroke="#000" stroke-width="1.6" stroke-linejoin="round">2</text>
<line x1="333.75" y1="136" x2="324.24" y2="129.66" stroke="#000" stroke-width="1.6"/>
<path d="M318,125.5L327.07,127.22L323.08,133.21Z" fill="#000"/>
<circle cx="346.75" cy="144.25" r="14.2" fill="#fff" stroke="#000" stroke-width="1.8"/>
<text x="347.05" y="150.15" text-anchor="middle" font-family="Liberation Serif, serif" font-weight="bold" font-style="italic" font-size="17.5" fill="#000" stroke="#000" stroke-width="1.6" stroke-linejoin="round">3</text>
<line x1="547.5" y1="187.5" x2="564.63" y2="194.99" stroke="#000" stroke-width="1.6"/>
<path d="M571.5,198L562.27,197.89L565.16,191.29Z" fill="#000"/>
<circle cx="535" cy="179" r="14.2" fill="#fff" stroke="#000" stroke-width="1.8"/>
<text x="535.3" y="184.9" text-anchor="middle" font-family="Liberation Serif, serif" font-weight="bold" font-style="italic" font-size="17.5" fill="#000" stroke="#000" stroke-width="1.6" stroke-linejoin="round">4</text>
<line x1="586" y1="289.5" x2="583.53" y2="254.48" stroke="#000" stroke-width="1.6"/>
<path d="M583,247L587.19,255.23L580.01,255.73Z" fill="#000"/>
<circle cx="586" cy="304" r="14.2" fill="#fff" stroke="#000" stroke-width="1.8"/>
<text x="586.3" y="309.9" text-anchor="middle" font-family="Liberation Serif, serif" font-weight="bold" font-style="italic" font-size="17.5" fill="#000" stroke="#000" stroke-width="1.6" stroke-linejoin="round">5</text>
<line x1="312" y1="622" x2="302" y2="616.24" stroke="#000" stroke-width="1.6"/>
<path d="M295.5,612.5L304.66,613.62L301.07,619.86Z" fill="#000"/>
<circle cx="323.5" cy="631.5" r="14.2" fill="#fff" stroke="#000" stroke-width="1.8"/>
<text x="323.8" y="637.4" text-anchor="middle" font-family="Liberation Serif, serif" font-weight="bold" font-style="italic" font-size="17.5" fill="#000" stroke="#000" stroke-width="1.6" stroke-linejoin="round">6</text>
<line x1="245" y1="446" x2="236.4" y2="454.29" stroke="#000" stroke-width="1.6"/>
<path d="M231,459.5L234.62,451.01L239.62,456.19Z" fill="#000"/>
<circle cx="254.5" cy="434.5" r="14.2" fill="#fff" stroke="#000" stroke-width="1.8"/>
<text x="254.8" y="440.4" text-anchor="middle" font-family="Liberation Serif, serif" font-weight="bold" font-style="italic" font-size="17.5" fill="#000" stroke="#000" stroke-width="1.6" stroke-linejoin="round">7</text>
<line x1="361.8" y1="580.3" x2="352.28" y2="574.1" stroke="#000" stroke-width="1.6"/>
<path d="M346,570L355.09,571.63L351.15,577.66Z" fill="#000"/>
<circle cx="374" cy="588.5" r="14.2" fill="#fff" stroke="#000" stroke-width="1.8"/>
<text x="374.3" y="594.4" text-anchor="middle" font-family="Liberation Serif, serif" font-weight="bold" font-style="italic" font-size="17.5" fill="#000" stroke="#000" stroke-width="1.6" stroke-linejoin="round">8</text>
<line x1="267.5" y1="492.5" x2="260.1" y2="500.5" stroke="#000" stroke-width="1.6"/>
<path d="M255,506L258.13,497.32L263.42,502.21Z" fill="#000"/>
<circle cx="278" cy="481" r="14.2" fill="#fff" stroke="#000" stroke-width="1.8"/>
<text x="278.3" y="486.9" text-anchor="middle" font-family="Liberation Serif, serif" font-weight="bold" font-style="italic" font-size="17.5" fill="#000" stroke="#000" stroke-width="1.6" stroke-linejoin="round">9</text>

<rect x="289.5" y="16.6" width="221" height="39" rx="7" fill="#5d3b8f"/>
<rect x="291.6" y="18.7" width="216.8" height="34.8" rx="5.5" fill="none" stroke="#efe8f6" stroke-width="2.2"/>
<text x="290.5" y="55.5" font-family="Liberation Sans, sans-serif" font-weight="bold" font-style="italic" font-size="48" textLength="31" lengthAdjust="spacingAndGlyphs" fill="#2a1638" stroke="#2a1638" stroke-width="2.2" stroke-linejoin="round">P</text>
<text x="321.5" y="51.5" font-family="Liberation Sans, sans-serif" font-weight="bold" font-style="italic" font-size="34" textLength="23" lengthAdjust="spacingAndGlyphs" fill="#2a1638" stroke="#2a1638" stroke-width="2.2" stroke-linejoin="round">O</text>
<text x="342.5" y="52" font-family="Liberation Sans, sans-serif" font-weight="bold" font-style="italic" font-size="42" textLength="41" lengthAdjust="spacingAndGlyphs" fill="#2a1638" stroke="#2a1638" stroke-width="2.2" stroke-linejoin="round">W</text>
<text x="382.5" y="52" font-family="Liberation Sans, sans-serif" font-weight="bold" font-style="italic" font-size="42" textLength="20" lengthAdjust="spacingAndGlyphs" fill="#2a1638" stroke="#2a1638" stroke-width="2.2" stroke-linejoin="round">E</text>
<text x="401.5" y="52" font-family="Liberation Sans, sans-serif" font-weight="bold" font-style="italic" font-size="42" textLength="24" lengthAdjust="spacingAndGlyphs" fill="#2a1638" stroke="#2a1638" stroke-width="2.2" stroke-linejoin="round">R</text>
<text x="424.5" y="52" font-family="Liberation Sans, sans-serif" font-weight="bold" font-style="italic" font-size="42" textLength="20" lengthAdjust="spacingAndGlyphs" fill="#2a1638" stroke="#2a1638" stroke-width="2.2" stroke-linejoin="round">F</text>
<text x="443.5" y="52" font-family="Liberation Sans, sans-serif" font-weight="bold" font-style="italic" font-size="42" textLength="17" lengthAdjust="spacingAndGlyphs" fill="#2a1638" stroke="#2a1638" stroke-width="2.2" stroke-linejoin="round">L</text>
<text x="460.5" y="52" font-family="Liberation Sans, sans-serif" font-weight="bold" font-style="italic" font-size="42" textLength="22" lengthAdjust="spacingAndGlyphs" fill="#2a1638" stroke="#2a1638" stroke-width="2.2" stroke-linejoin="round">E</text>
<text x="481.5" y="52" font-family="Liberation Sans, sans-serif" font-weight="bold" font-style="italic" font-size="42" textLength="25" lengthAdjust="spacingAndGlyphs" fill="#2a1638" stroke="#2a1638" stroke-width="2.2" stroke-linejoin="round">X</text>
<text x="291.5" y="54.5" font-family="Liberation Sans, sans-serif" font-weight="bold" font-style="italic" font-size="48" textLength="31" lengthAdjust="spacingAndGlyphs" fill="#f4d30c" stroke="#f4d30c" stroke-width="1" stroke-linejoin="round">P</text>
<text x="322.5" y="50.5" font-family="Liberation Sans, sans-serif" font-weight="bold" font-style="italic" font-size="34" textLength="23" lengthAdjust="spacingAndGlyphs" fill="#f4d30c" stroke="#f4d30c" stroke-width="1" stroke-linejoin="round">O</text>
<text x="343.5" y="51" font-family="Liberation Sans, sans-serif" font-weight="bold" font-style="italic" font-size="42" textLength="41" lengthAdjust="spacingAndGlyphs" fill="#f4d30c" stroke="#f4d30c" stroke-width="1" stroke-linejoin="round">W</text>
<text x="383.5" y="51" font-family="Liberation Sans, sans-serif" font-weight="bold" font-style="italic" font-size="42" textLength="20" lengthAdjust="spacingAndGlyphs" fill="#f4d30c" stroke="#f4d30c" stroke-width="1" stroke-linejoin="round">E</text>
<text x="402.5" y="51" font-family="Liberation Sans, sans-serif" font-weight="bold" font-style="italic" font-size="42" textLength="24" lengthAdjust="spacingAndGlyphs" fill="#f4d30c" stroke="#f4d30c" stroke-width="1" stroke-linejoin="round">R</text>
<text x="425.5" y="51" font-family="Liberation Sans, sans-serif" font-weight="bold" font-style="italic" font-size="42" textLength="20" lengthAdjust="spacingAndGlyphs" fill="#f4d30c" stroke="#f4d30c" stroke-width="1" stroke-linejoin="round">F</text>
<text x="444.5" y="51" font-family="Liberation Sans, sans-serif" font-weight="bold" font-style="italic" font-size="42" textLength="17" lengthAdjust="spacingAndGlyphs" fill="#f4d30c" stroke="#f4d30c" stroke-width="1" stroke-linejoin="round">L</text>
<text x="461.5" y="51" font-family="Liberation Sans, sans-serif" font-weight="bold" font-style="italic" font-size="42" textLength="22" lengthAdjust="spacingAndGlyphs" fill="#f4d30c" stroke="#f4d30c" stroke-width="1" stroke-linejoin="round">E</text>
<text x="482.5" y="51" font-family="Liberation Sans, sans-serif" font-weight="bold" font-style="italic" font-size="42" textLength="25" lengthAdjust="spacingAndGlyphs" fill="#f4d30c" stroke="#f4d30c" stroke-width="1" stroke-linejoin="round">X</text>
<circle cx="504" cy="39" r="2" fill="none" stroke="#b8a0d0" stroke-width="0.8"/>
<text x="194.25" y="77.3" font-family="Liberation Sans, sans-serif" font-weight="bold" font-style="italic" font-size="15.5" textLength="81.75" lengthAdjust="spacingAndGlyphs" fill="#000" stroke="#000" stroke-width="0.85" stroke-linejoin="round">PORSCHE</text>
<text x="279.25" y="77.3" font-family="Liberation Sans, sans-serif" font-weight="bold" font-style="italic" font-size="15.5" textLength="33.95" lengthAdjust="spacingAndGlyphs" fill="#000" stroke="#000" stroke-width="0.85" stroke-linejoin="round">924</text>
<text x="317.5" y="77.3" font-family="Liberation Sans, sans-serif" font-weight="bold" font-style="italic" font-size="15.5" textLength="12.7" lengthAdjust="spacingAndGlyphs" fill="#000" stroke="#000" stroke-width="0.85" stroke-linejoin="round">&amp;</text>
<text x="333.4" y="77.3" font-family="Liberation Sans, sans-serif" font-weight="bold" font-style="italic" font-size="15.5" textLength="13.8" lengthAdjust="spacingAndGlyphs" fill="#000" stroke="#000" stroke-width="0.85" stroke-linejoin="round">S</text>
<text x="349.4" y="77.3" font-family="Liberation Sans, sans-serif" font-weight="bold" font-style="italic" font-size="15.5" textLength="34.2" lengthAdjust="spacingAndGlyphs" fill="#000" stroke="#000" stroke-width="0.85" stroke-linejoin="round">(ALL</text>
<text x="388.75" y="77.3" font-family="Liberation Sans, sans-serif" font-weight="bold" font-style="italic" font-size="15.5" textLength="65.25" lengthAdjust="spacingAndGlyphs" fill="#000" stroke="#000" stroke-width="0.85" stroke-linejoin="round">YEARS),</text>
<text x="458" y="77.3" font-family="Liberation Sans, sans-serif" font-weight="bold" font-style="italic" font-size="15.5" textLength="35" lengthAdjust="spacingAndGlyphs" fill="#000" stroke="#000" stroke-width="0.85" stroke-linejoin="round">944</text>
<text x="497" y="77.3" font-family="Liberation Sans, sans-serif" font-weight="bold" font-style="italic" font-size="15.5" textLength="47" lengthAdjust="spacingAndGlyphs" fill="#000" stroke="#000" stroke-width="0.85" stroke-linejoin="round">(1982</text>
<text x="548" y="77.3" font-family="Liberation Sans, sans-serif" font-weight="bold" font-style="italic" font-size="15.5" textLength="8" lengthAdjust="spacingAndGlyphs" fill="#000" stroke="#000" stroke-width="0.85" stroke-linejoin="round">-</text>
<text x="560" y="77.3" font-family="Liberation Sans, sans-serif" font-weight="bold" font-style="italic" font-size="15.5" textLength="47" lengthAdjust="spacingAndGlyphs" fill="#000" stroke="#000" stroke-width="0.85" stroke-linejoin="round">1985)</text>
</svg>
</body></html>
